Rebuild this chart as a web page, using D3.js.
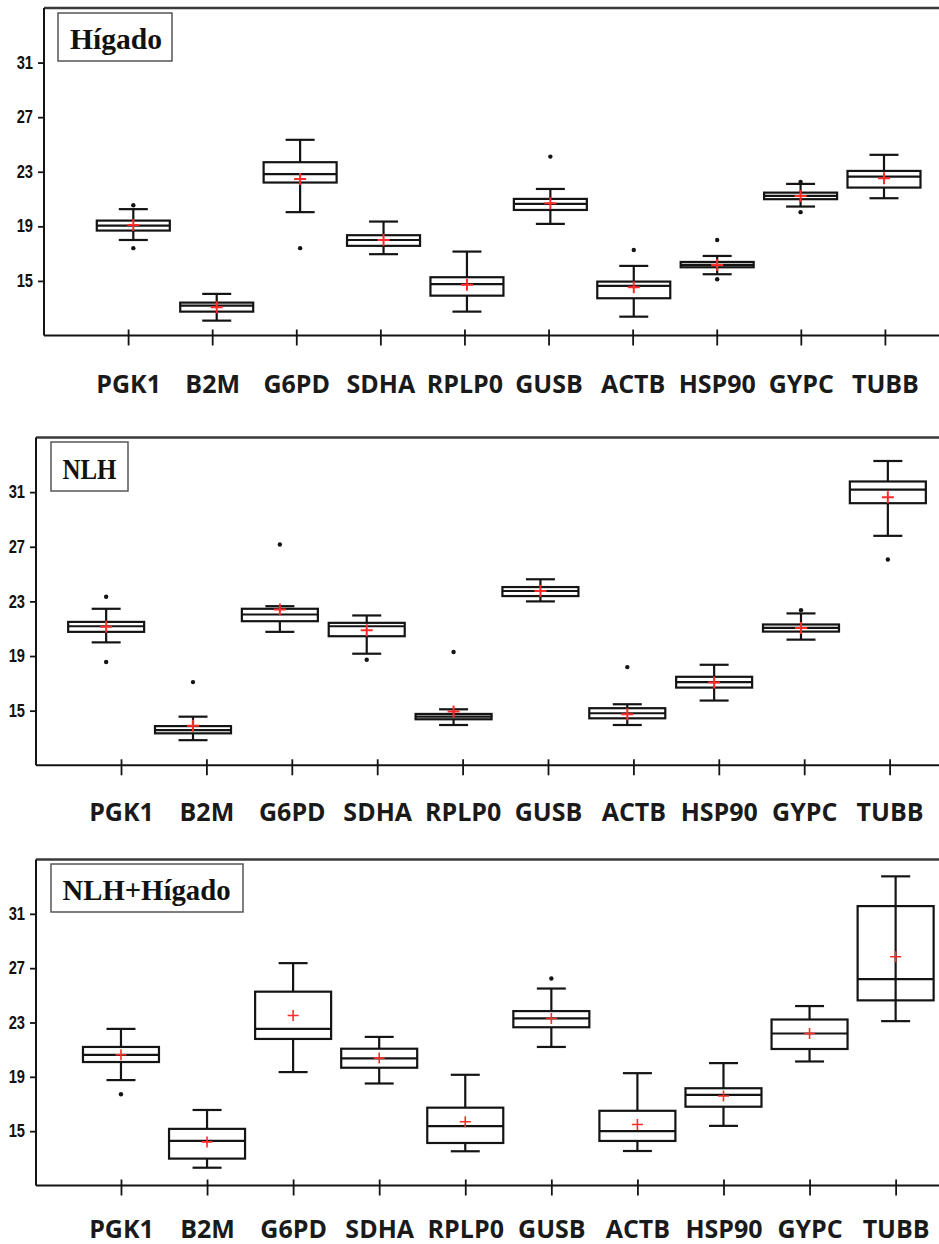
<!DOCTYPE html>
<html>
<head>
<meta charset="utf-8">
<script src="https://cdn.jsdelivr.net/npm/d3@7"></script>
<style>
  body { margin: 0; background: #fff; }
  svg { display: block; }
</style>
</head>
<body>
<svg id="chart" width="939" height="1244"></svg>
<script>
// Reference genes (Ct values), three sample groups
const genes = ["PGK1", "B2M", "G6PD", "SDHA", "RPLP0", "GUSB", "ACTB", "HSP90", "GYPC", "TUBB"];
const yTicks = [15, 19, 23, 27, 31];

// Hígado
const higadoLow    = [18.00, 12.09, 20.04, 16.96, 12.75, 19.18, 12.38, 15.49, 20.45, 21.06];
const higadoQ1     = [18.69, 12.75, 22.21, 17.57, 13.92, 20.20, 13.73, 16.00, 20.99, 21.84];
const higadoMedian = [19.05, 13.19, 22.82, 18.00, 14.76, 20.65, 14.63, 16.17, 21.23, 22.65];
const higadoQ3     = [19.42, 13.41, 23.70, 18.35, 15.27, 21.01, 14.95, 16.39, 21.47, 23.06];
const higadoHigh   = [20.26, 14.05, 25.34, 19.35, 17.15, 21.74, 16.10, 16.83, 22.11, 24.24];
const higadoMean   = [19.10, 13.07, 22.46, 18.00, 14.71, 20.70, 14.54, 16.17, 21.23, 22.53];
const higadoOutliers = [[17.40, 20.55], [], [17.40], [], [], [24.11], [17.27], [18.00, 15.12], [22.25, 20.04], []];

// NLH
const nlhLow    = [20.00, 12.84, 20.77, 19.17, 13.95, 23.00, 13.95, 15.74, 20.20, 27.80];
const nlhQ1     = [20.77, 13.34, 21.55, 20.45, 14.37, 23.39, 14.44, 16.69, 20.79, 30.19];
const nlhMedian = [21.18, 13.58, 22.04, 21.18, 14.56, 23.76, 14.81, 17.09, 21.06, 31.19];
const nlhQ3     = [21.50, 13.87, 22.46, 21.43, 14.76, 24.05, 15.18, 17.48, 21.31, 31.78];
const nlhHigh   = [22.46, 14.56, 22.65, 21.97, 15.10, 24.62, 15.47, 18.36, 22.12, 33.28];
const nlhMean   = [21.14, 13.90, 22.40, 20.89, 14.93, 23.76, 14.74, 17.07, 21.06, 30.63];
const nlhOutliers = [[23.34, 18.56], [17.09], [27.17], [18.73], [19.30], [], [18.19], [], [22.36], [26.07]];

// NLH+Hígado
const allLow    = [18.76, 12.31, 19.35, 18.51, 13.52, 21.20, 13.54, 15.39, 20.13, 23.10];
const allQ1     = [20.09, 12.98, 21.79, 19.67, 14.13, 22.65, 14.28, 16.80, 21.05, 24.63];
const allMedian = [20.61, 14.28, 22.53, 20.36, 15.37, 23.30, 15.00, 17.67, 22.19, 26.19];
const allQ3     = [21.20, 15.17, 25.27, 21.07, 16.73, 23.84, 16.50, 18.16, 23.22, 31.57];
const allHigh   = [22.53, 16.56, 27.37, 21.94, 19.15, 25.50, 19.27, 20.01, 24.21, 33.76];
const allMean   = [20.63, 14.21, 23.52, 20.38, 15.69, 23.30, 15.49, 17.59, 22.19, 27.84];
const allOutliers = [[17.72], [], [], [], [], [26.24], [], [], [], []];

const panels = [
  { title: "Hígado",
    low: higadoLow, q1: higadoQ1, median: higadoMedian, q3: higadoQ3, high: higadoHigh,
    mean: higadoMean, outliers: higadoOutliers,
    left: 44, yRange: [335.5, 8], tickRange: [44, 969], boxRange: [49.9, 967.4],
    titleBox: [58, 13, 114, 48], titleX: 70, titleBase: 48.5, titleLen: 92, labelBase: 57,
    boxW: 73, plusW: 2, plusR: 6, throughBox: [] },
  { title: "NLH",
    low: nlhLow, q1: nlhQ1, median: nlhMedian, q3: nlhQ3, high: nlhHigh,
    mean: nlhMean, outliers: nlhOutliers,
    left: 36, yRange: [765.3, 437.5], tickRange: [35.6, 975], boxRange: [19.3, 974.7],
    titleBox: [51, 442, 77, 49], titleX: 62.5, titleBase: 478.5, titleLen: 54, labelBase: 56,
    boxW: 76, plusW: 2, plusR: 6, throughBox: [] },
  { title: "NLH+Hígado",
    low: allLow, q1: allQ1, median: allMedian, q3: allQ3, high: allHigh,
    mean: allMean, outliers: allOutliers,
    left: 36, yRange: [1185.5, 859.5], tickRange: [34.9, 981.7], boxRange: [34.9, 981.7],
    titleBox: [51, 864, 192, 48], titleX: 62.5, titleBase: 900, titleLen: 168, labelBase: 52,
    boxW: 76, plusW: 1.6, plusR: 5.5, throughBox: ["TUBB"] }
];

const svg = d3.select("#chart");
const ink = "#141414";
const narrow = 0.84; // horizontal squeeze for the y tick numbers

panels.forEach(p => {
  const g = svg.append("g");
  const y = d3.scaleLinear().domain([11, 35]).range(p.yRange);
  const xTicks = d3.scalePoint().domain(genes).range(p.tickRange).padding(1);
  const xBox = d3.scalePoint().domain(genes).range(p.boxRange).padding(1);
  const bottom = y(11), top = y(35), right = p.tickRange[1];

  // frame: top, left and baseline
  g.append("line").attr("x1", p.left).attr("x2", right + 40).attr("y1", top).attr("y2", top)
    .attr("stroke", "#3a3a3a").attr("stroke-width", 2.4);
  g.append("line").attr("x1", p.left).attr("x2", p.left).attr("y1", top).attr("y2", bottom)
    .attr("stroke", ink).attr("stroke-width", 2);

  // y axis
  const ya = g.append("g").attr("transform", `translate(${p.left},0)`)
    .call(d3.axisLeft(y).tickValues(yTicks).tickSize(6).tickPadding(5));
  ya.select(".domain").remove();
  ya.selectAll(".tick line").attr("stroke", ink).attr("stroke-width", 1.8);
  ya.selectAll(".tick text")
    .attr("x", -11 / narrow)
    .attr("transform", `scale(${narrow},1)`)
    .attr("fill", "#111")
    .style("font-family", "'Liberation Sans', Arial, sans-serif")
    .style("font-weight", "bold").style("font-size", "17.5px");

  // x axis
  const xa = g.append("g").attr("transform", `translate(0,${bottom})`)
    .call(d3.axisBottom(xTicks).tickSize(10).tickSizeOuter(0));
  xa.select(".domain").remove();
  g.append("line").attr("x1", p.left).attr("x2", right + 40).attr("y1", bottom).attr("y2", bottom)
    .attr("stroke", ink).attr("stroke-width", 2);
  xa.selectAll(".tick line").attr("y1", -6).attr("stroke", ink).attr("stroke-width", 1.8);
  xa.selectAll(".tick text")
    .attr("y", p.labelBase).attr("dy", null)
    .attr("fill", "#1a1a1a")
    .style("font-family", "'Open Sans', sans-serif")
    .style("font-weight", "bold").style("font-size", "25px");

  // box plots
  const boxes = g.append("g").selectAll("g").data(genes).join("g")
    .attr("transform", d => `translate(${xBox(d)},0)`);
  const half = p.boxW / 2, cap = 14.5;

  boxes.each(function (gene, i) {
    const b = d3.select(this);
    const line = (x1, y1, x2, y2) => b.append("line")
      .attr("x1", x1).attr("y1", y1).attr("x2", x2).attr("y2", y2)
      .attr("stroke", ink).attr("stroke-width", 2.2);
    const through = p.throughBox.includes(gene);
    // whiskers
    line(0, y(p.high[i]), 0, y(p.q3[i]));
    line(0, y(p.q1[i]), 0, y(p.low[i]));
    line(-cap, y(p.high[i]), cap, y(p.high[i]));
    line(-cap, y(p.low[i]), cap, y(p.low[i]));
    // box
    b.append("rect")
      .attr("x", -half).attr("y", y(p.q3[i]))
      .attr("width", p.boxW).attr("height", y(p.q1[i]) - y(p.q3[i]))
      .attr("fill", through ? "none" : "#fff").attr("stroke", ink).attr("stroke-width", 2.2);
    if (through) line(0, y(p.q3[i]), 0, y(p.q1[i]));
    // median
    line(-half, y(p.median[i]), half, y(p.median[i]));
    // outliers
    b.selectAll("circle").data(p.outliers[i]).join("circle")
      .attr("cx", 0).attr("cy", v => y(v)).attr("r", 2.2).attr("fill", ink);
    // mean
    const my = y(p.mean[i]);
    b.append("path")
      .attr("d", `M${-p.plusR},${my}H${p.plusR}M0,${my - p.plusR}V${my + p.plusR}`)
      .attr("stroke", "#ff2b2b").attr("stroke-width", p.plusW).attr("fill", "none");
  });

  // title box
  const [tx, ty, tw, th] = p.titleBox;
  g.append("rect").attr("x", tx).attr("y", ty).attr("width", tw).attr("height", th)
    .attr("fill", "#fff").attr("stroke", "#555").attr("stroke-width", 1.5);
  g.append("text").attr("x", p.titleX).attr("y", p.titleBase)
    .attr("textLength", p.titleLen).attr("lengthAdjust", "spacingAndGlyphs")
    .text(p.title)
    .attr("fill", "#111")
    .style("font-family", "'Liberation Serif', 'Times New Roman', serif")
    .style("font-weight", "bold").style("font-size", "30px");
});
</script>
</body>
</html>
